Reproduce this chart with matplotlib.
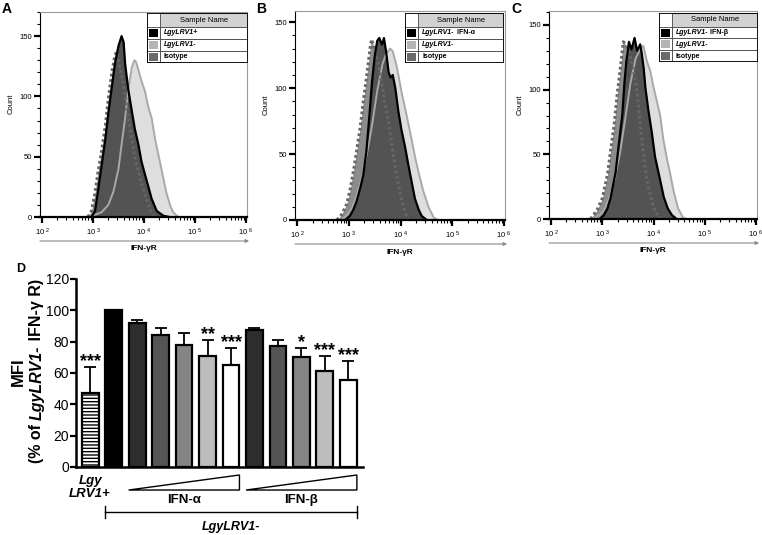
import numpy as np
import matplotlib
matplotlib.use("Agg")
import matplotlib.pyplot as plt
from matplotlib.patches import Rectangle, Polygon
from matplotlib.ticker import MultipleLocator, FixedLocator, NullFormatter
from matplotlib.transforms import offset_copy

# ---- histogram data (log10 of IFN-gR intensity, cell count) ----
# panel A
a_light_x = [2.85, 2.95, 3.05, 3.17, 3.30, 3.40, 3.50, 3.56, 3.63, 3.69, 3.76, 3.81, 3.84, 3.89, 3.95, 4.02, 4.08, 4.15, 4.22, 4.28, 4.33, 4.38, 4.44, 4.51, 4.57, 4.67]
a_light_y = [0, 1, 2, 4, 10, 21, 40, 60, 82, 106, 124, 130, 129, 122, 113, 104, 92, 82, 64, 52, 42, 32, 20, 10, 4, 0]
a_iso_x = [2.90, 2.97, 3.04, 3.10, 3.17, 3.24, 3.30, 3.37, 3.43, 3.46, 3.50, 3.56, 3.63, 3.69, 3.76, 3.82, 3.89, 3.95, 4.02, 4.08, 4.14, 4.20]
a_iso_y = [0, 5, 20, 38, 55, 75, 98, 120, 134, 137, 130, 118, 100, 82, 65, 50, 38, 28, 19, 11, 4, 0]
a_blk_x = [2.97, 3.04, 3.10, 3.17, 3.24, 3.30, 3.37, 3.43, 3.50, 3.56, 3.60, 3.63, 3.69, 3.76, 3.82, 3.89, 3.95, 4.02, 4.08, 4.15, 4.25, 4.38, 4.50]
a_blk_y = [0, 5, 22, 43, 64, 86, 108, 127, 142, 150, 145, 127, 106, 88, 73, 60, 46, 35, 26, 15, 5, 1, 0]

# panel B
b_light_x = [2.85, 2.95, 3.05, 3.15, 3.25, 3.35, 3.45, 3.55, 3.65, 3.72, 3.80, 3.85, 3.93, 4.02, 4.12, 4.22, 4.28, 4.35, 4.44, 4.54, 4.64, 4.72]
b_light_y = [0, 3, 8, 18, 32, 50, 72, 98, 118, 126, 130, 128, 116, 97, 79, 60, 48, 36, 22, 10, 2, 0]
b_iso_x = [2.77, 2.86, 2.96, 3.02, 3.09, 3.15, 3.22, 3.28, 3.35, 3.41, 3.44, 3.51, 3.57, 3.64, 3.70, 3.77, 3.83, 3.89, 3.96, 4.02, 4.09, 4.15]
b_iso_y = [0, 4, 12, 22, 37, 52, 70, 90, 110, 130, 137, 128, 118, 103, 88, 74, 58, 42, 27, 15, 6, 0]
b_blk_x = [2.93, 3.02, 3.09, 3.15, 3.22, 3.28, 3.34, 3.40, 3.45, 3.50, 3.55, 3.59, 3.64, 3.68, 3.72, 3.77, 3.81, 3.85, 3.90, 3.96, 4.02, 4.09, 4.15, 4.22, 4.28, 4.35, 4.41, 4.51]
b_blk_y = [0, 3, 8, 14, 24, 34, 52, 80, 105, 124, 136, 138, 133, 138, 128, 112, 108, 110, 100, 82, 68, 55, 42, 28, 16, 8, 3, 0]

# panel C
c_light_x = [2.80, 2.95, 3.05, 3.15, 3.25, 3.35, 3.45, 3.55, 3.65, 3.75, 3.80, 3.87, 3.94, 4.00, 4.06, 4.13, 4.19, 4.26, 4.32, 4.39, 4.48, 4.58, 4.65]
c_light_y = [0, 3, 8, 18, 32, 52, 78, 105, 124, 132, 134, 122, 114, 102, 92, 80, 62, 47, 36, 22, 8, 1, 0]
c_iso_x = [2.77, 2.90, 3.00, 3.10, 3.16, 3.23, 3.29, 3.36, 3.41, 3.45, 3.52, 3.58, 3.63, 3.68, 3.74, 3.81, 3.87, 3.97, 4.06, 4.16]
c_iso_y = [0, 7, 16, 34, 52, 72, 96, 119, 137, 135, 130, 120, 110, 98, 74, 48, 30, 13, 4, 0]
c_blk_x = [2.95, 3.03, 3.10, 3.16, 3.26, 3.32, 3.39, 3.43, 3.47, 3.50, 3.52, 3.57, 3.63, 3.68, 3.74, 3.77, 3.81, 3.84, 3.90, 3.97, 4.03, 4.13, 4.20, 4.28, 4.36, 4.45]
c_blk_y = [0, 3, 8, 16, 36, 57, 80, 104, 122, 130, 137, 131, 140, 130, 135, 128, 116, 102, 84, 66, 48, 30, 17, 8, 3, 0]

key_a = [("LgyLRV1+", ""), ("LgyLRV1-", ""), ("", "Isotype")]
key_b = [("LgyLRV1-", " IFN-\u03b1"), ("LgyLRV1-", ""), ("", "Isotype")]
key_c = [("LgyLRV1-", " IFN-\u03b2"), ("LgyLRV1-", ""), ("", "Isotype")]

# ---- bar chart data (panel D) ----
mfi = [47, 100, 92, 84, 78, 71, 65, 87.5, 77.5, 70, 61, 55.5]
mfi_err = [17, 0, 2, 5, 7.5, 10, 11, 1, 3.5, 6, 10, 12]
stars = ["***", "", "", "", "", "**", "***", "", "", "*", "***", "***"]
bar_colors = ["white", "black", "#2d2d2d", "#555555", "#858585", "#bdbdbd", "white",
              "#2d2d2d", "#555555", "#858585", "#bdbdbd", "white"]

plt.rcParams["font.family"] = ["Liberation Sans", "DejaVu Sans"]
plt.rcParams["mathtext.default"] = "regular"
plt.rcParams["hatch.linewidth"] = 1.0

W, H = 762, 535
fig = plt.figure(figsize=(W / 100, H / 100), dpi=100)


def px_box(l, t, r, b):
    return [l / W, 1 - b / H, (r - l) / W, (b - t) / H]


def draw_key(box, rows):
    l, t, r, b = box
    w, h = r - l, b - t
    kx = fig.add_axes(px_box(l, t, r, b))
    kx.set_xlim(0, w)
    kx.set_ylim(h, 0)
    kx.axis("off")
    head = h * 0.28
    row = (h - head) / 3
    sw = 13
    kx.add_patch(Rectangle((sw, 0), w - sw, head, fc="#d2d2d2", ec="#444", lw=0.6))
    kx.text(sw + (w - sw) / 2, head / 2, "Sample Name", ha="center", va="center", fontsize=5.5)
    for i, ((ital, rest), col) in enumerate(zip(rows, ["black", "#b4b4b4", "#6a6a6a"])):
        y0 = head + i * row
        kx.add_patch(Rectangle((0, y0), sw, row, fc="white", ec="#444", lw=0.6))
        kx.add_patch(Rectangle((2, y0 + 1.8), sw - 4, row - 3.6, fc=col, ec="none"))
        kx.add_patch(Rectangle((sw, y0), w - sw, row, fc="white", ec="#444", lw=0.6))
        if ital:
            t1 = kx.text(sw + 4, y0 + row / 2, ital, style="italic", weight="bold",
                         fontsize=5, va="center")
            if rest:
                kx.annotate(rest, xy=(1, 0.5), xycoords=t1, va="center", ha="left",
                            weight="bold", fontsize=5)
        else:
            kx.text(sw + 4, y0 + row / 2, rest, weight="bold", fontsize=5, va="center")
    kx.add_patch(Rectangle((0, 0), w, h, fc="none", ec="black", lw=1.3))


def hist_panel(box, ymax, letter, lx, ly, ix, iy, bx, by, key_box, rows):
    ax = fig.add_axes(px_box(*box))
    ax.set_xscale("log")
    ax.set_xlim(10 ** 1.96, 10 ** 6.02)
    ax.set_ylim(0, ymax)

    lx, ix, bx = 10 ** np.array(lx), 10 ** np.array(ix), 10 ** np.array(bx)
    ax.fill_between(lx, ly, color="#dedede", lw=0)
    ax.fill_between(ix, iy, color="#8c8c8c", lw=0)
    ax.fill_between(bx, by, color="#535353", lw=0)
    ax.plot(lx, ly, color="#a9a9a9", lw=1.4)
    ax.plot(ix, iy, color="#666666", lw=2.2, dashes=(0.9, 0.9))
    ax.plot(bx, by, color="black", lw=1.6)

    ax.yaxis.set_major_locator(MultipleLocator(50))
    ax.yaxis.set_minor_locator(MultipleLocator(10))
    ax.set_xticks([1e2, 1e3, 1e4, 1e5, 1e6])
    ax.set_xticklabels([r"$10^{\ %d}$" % k for k in range(2, 7)])
    minors = [m * 10 ** k for k in range(2, 6) for m in range(2, 10)]
    ax.xaxis.set_minor_locator(FixedLocator(minors))
    ax.xaxis.set_minor_formatter(NullFormatter())
    ax.tick_params(axis="both", which="major", length=4, width=1.6, labelsize=5.5, pad=2)
    ax.tick_params(axis="both", which="minor", length=2.2, width=0.8)
    ax.tick_params(axis="x", which="major", pad=3)

    for s in ["top", "right"]:
        ax.spines[s].set_color("#9a9a9a")
        ax.spines[s].set_linewidth(0.8)
    ax.spines["left"].set_linewidth(0.8)
    ax.spines["bottom"].set_linewidth(1.6)

    ax.text(0, 0.55, "Count", rotation=90, ha="center", va="center", fontsize=5.5,
            transform=offset_copy(ax.transAxes, fig=fig, x=-29, units="dots"))

    arr = offset_copy(ax.transAxes, fig=fig, y=-24, units="dots")
    ax.annotate("", xy=(1.01, 0), xytext=(0, 0), xycoords=arr, textcoords=arr,
                arrowprops=dict(arrowstyle="-|>", color="#8a8a8a", lw=0.8,
                                mutation_scale=5, shrinkA=0, shrinkB=0))
    ax.text(0.5, 0, "IFN-\u03b3R", ha="center", va="center", fontsize=6, weight="bold",
            transform=offset_copy(ax.transAxes, fig=fig, y=-32, units="dots"))

    fig.text(letter[1] / W, 1 - 9 / H, letter[0], fontsize=10, weight="bold", va="center")
    draw_key(key_box, rows)
    return ax


hist_panel((40, 12, 247, 217), 170, ("A", 2), a_light_x, a_light_y, a_iso_x, a_iso_y,
           a_blk_x, a_blk_y, (147, 13, 248, 63), key_a)
hist_panel((295, 11, 505, 220), 158.5, ("B", 256), b_light_x, b_light_y, b_iso_x, b_iso_y,
           b_blk_x, b_blk_y, (405, 13, 504, 63), key_b)
hist_panel((549, 11, 757, 219), 160.8, ("C", 511), c_light_x, c_light_y, c_iso_x, c_iso_y,
           c_blk_x, c_blk_y, (659, 13, 758, 62), key_c)

# ---- panel D ----
ax = fig.add_axes(px_box(76, 279, 363, 467))
pos = np.arange(len(mfi))
bw = 0.72
bars = ax.bar(pos, mfi, width=bw, color=bar_colors, edgecolor="black", linewidth=1.6, zorder=2)
bars[0].set_hatch("-----")
ax.errorbar(pos, mfi, yerr=[np.zeros(len(mfi)), mfi_err], fmt="none", ecolor="black",
            elinewidth=1.3, capsize=4, capthick=1.3, zorder=3)
for i, s in enumerate(stars):
    if s:
        ax.annotate(s, (pos[i], mfi[i] + mfi_err[i]), xytext=(0, 0.5), textcoords="offset points",
                    ha="center", va="baseline", fontsize=13, weight="bold")

ax.set_xlim(-0.6, 11.62)
ax.set_ylim(0, 120)
ax.set_xticks([])
ax.set_yticks(range(0, 121, 20))
ax.tick_params(axis="y", length=4, width=1.6, labelsize=10, pad=1)
for s in ["top", "right"]:
    ax.spines[s].set_visible(False)
ax.spines["left"].set_linewidth(1.8)
ax.spines["bottom"].set_linewidth(1.8)

# group annotations under the bars
ax.text(0, -12.8, "Lgy\nLRV1+", ha="center", va="center", fontsize=9.5, style="italic",
        weight="bold", linespacing=1.1, clip_on=False)
for first, last, lab in [(2, 6, "IFN-\u03b1"), (7, 11, "IFN-\u03b2")]:
    x0, x1 = first - bw / 2, last + bw / 2
    ax.add_patch(Polygon([(x0, -14.7), (x1, -5.1), (x1, -14.7)], closed=True, fc="white",
                         ec="black", lw=1.0, clip_on=False))
    ax.text((first + last) / 2, -21, lab, ha="center", va="center", fontsize=9.5,
            weight="bold", clip_on=False)
ax.plot([1 - bw / 2, 11 + bw / 2], [-28.7, -28.7], color="black", lw=1.0, clip_on=False)
for xe in [1 - bw / 2, 11 + bw / 2]:
    ax.plot([xe, xe], [-32.5, -25], color="black", lw=1.0, clip_on=False)
ax.text(6, -38, "LgyLRV1-", ha="center", va="center", fontsize=9, style="italic",
        weight="bold", clip_on=False)

fig.text(21 / W, 1 - 269 / H, "D", fontsize=9, weight="bold", ha="center", va="center")
fig.text(18 / W, 1 - 372 / H, "MFI", rotation=90, fontsize=12, weight="bold",
         ha="center", va="center")
p1 = fig.text(37 / W, 1 - 463 / H, "(% of ", rotation=90, fontsize=11.5, weight="bold",
              ha="center", va="bottom")
p2 = ax.annotate("LgyLRV1-", xy=(0.5, 1), xycoords=p1, rotation=90, fontsize=11.5,
                 weight="bold", style="italic", ha="center", va="bottom")
ax.annotate(" IFN-\u03b3 R)", xy=(0.5, 1), xycoords=p2, rotation=90, fontsize=11.5,
            weight="bold", ha="center", va="bottom")

fig.savefig("out.png", dpi=100)
